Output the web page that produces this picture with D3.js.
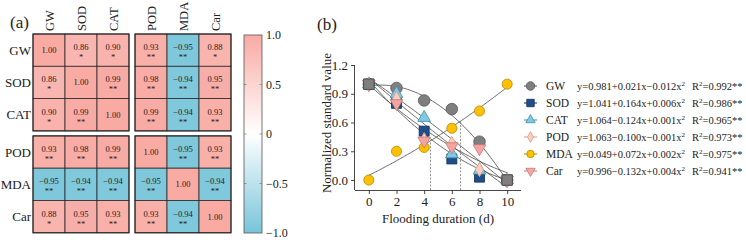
<!DOCTYPE html>
<html><head><meta charset="utf-8">
<script src="https://cdn.jsdelivr.net/npm/d3@7"></script>
<style>body{margin:0;background:#fff}svg{display:block}text{font-family:"Liberation Serif","Times New Roman",Times,serif;fill:#222}</style>
</head><body><svg id="c" width="746" height="240" font-family="Liberation Serif, serif"></svg>
<script>
// ---------- data ----------
const vars = ["GW","SOD","CAT","POD","MDA","Car"];
const corr = [
  [1.00, 0.86, 0.90, 0.93,-0.95, 0.88],
  [0.86, 1.00, 0.99, 0.98,-0.94, 0.95],
  [0.90, 0.99, 1.00, 0.99,-0.94, 0.93],
  [0.93, 0.98, 0.99, 1.00,-0.95, 0.93],
  [-0.95,-0.94,-0.94,-0.95, 1.00,-0.94],
  [0.88, 0.95, 0.93, 0.93,-0.94, 1.00]
];
const sig = [
  ["", "*", "*", "**","**","*"],
  ["*", "", "**","**","**","**"],
  ["*", "**","", "**","**","**"],
  ["**","**","**","", "**","**"],
  ["**","**","**","**","", "**"],
  ["*", "**","**","**","**",""]
];
const cbTicks = [1.0, 0.5, 0, -0.5, -1.0];
const cbTickLabels = ["1.0","0.5","0","\u22120.5","\u22121.0"];

const days = [0, 2, 4, 6, 8, 10];
const seriesNames = ["GW","SOD","CAT","POD","MDA","Car"];
const GW  = [1.00, 0.96, 0.83, 0.74, 0.40, 0.00];
const SOD = [1.00, 0.80, 0.51, 0.22, 0.03, 0.00];
const CAT = [1.00, 0.90, 0.65, 0.27, 0.10, 0.00];
const POD = [1.00, 0.85, 0.42, 0.38, 0.11, 0.00];
const MDA = [0.00, 0.30, 0.34, 0.54, 0.72, 1.00];
const Car = [1.00, 0.80, 0.41, 0.35, 0.33, 0.00];
const seriesValues = [GW, SOD, CAT, POD, MDA, Car];
// quadratic fit coefficients (a, b, c) for drawing the fitted curves
const fitCoef = [
  [0.981, 0.021, -0.012],
  [1.041, -0.164, 0.006],
  [1.064, -0.124, 0.001],
  [1.063, -0.100, -0.001],
  [0.049, 0.072, 0.002],
  [0.996, -0.132, 0.004]
];
const eqText = [
  "y=0.981+0.021x\u22120.012x",
  "y=1.041+0.164x+0.006x",
  "y=1.064\u22120.124x+0.001x",
  "y=1.063\u22120.100x\u22120.001x",
  "y=0.049+0.072x+0.002x",
  "y=0.996\u22120.132x+0.004x"
];
const r2Text = ["=0.992**","=0.986**","=0.965**","=0.973**","=0.975**","=0.941**"];
const dashX = [4.46, 6.63];
const commonPts = [[0,1.0],[10,0.0]];
const xTicks = [0,2,4,6,8,10];
const yTicks = [0.0,0.3,0.6,0.9,1.2];

// ---------- styles ----------
const svg = d3.select("#c");
const color = d3.scaleLinear().domain([-1,0,1]).range(["#78C4D9","#ffffff","#F8AAA3"]);
const mk = [
  {shape:d3.symbolCircle,  size:105, fill:"#7f7f7f", stroke:"#555"},
  {shape:d3.symbolSquare,  size:100, fill:"#1f4e8a", stroke:"#0f2d55"},
  {shape:d3.symbolTriangle,size:70,  fill:"#7fc9e2", stroke:"#3e8fb0"},
  {shape:d3.symbolDiamond, size:60,  fill:"#f8cfbf", stroke:"#d49a88"},
  {shape:d3.symbolCircle,  size:80,  fill:"#ffc000", stroke:"#b58700"},
  {shape:d3.symbolTriangle,size:70,  fill:"#f4a5a1", stroke:"#c77a76", rot:180}
];

// ---------- panel (a) ----------
svg.append("text").attr("x",10).attr("y",28).attr("font-size",17).text("(a)");
const cw = 32, ch = 32.3, gapX = 6, gapY = 5;
const cx = d3.scaleLinear().domain([0,6]).range([33, 33+6*cw]);
const cy = d3.scaleLinear().domain([0,6]).range([34, 34+6*ch]);
const px = i => cx(i) + (i>=3?gapX:0);
const py = i => cy(i) + (i>=3?gapY:0);
const ga = svg.append("g");
corr.forEach((row,i)=>row.forEach((v,j)=>{
  ga.append("rect").attr("x",px(j)).attr("y",py(i)).attr("width",cw).attr("height",ch)
    .attr("fill",color(v)).attr("stroke","#2b2b2b").attr("stroke-width",0.8);
  ga.append("text").attr("x",px(j)+cw/2).attr("y",py(i)+ch/2+(sig[i][j]?0:3))
    .attr("text-anchor","middle").attr("font-size",8.5).text(v.toFixed(2).replace("-","\u2212"));
  if (sig[i][j]) ga.append("text").attr("x",px(j)+cw/2).attr("y",py(i)+ch/2+10)
    .attr("text-anchor","middle").attr("font-size",8.5).text(sig[i][j]);
}));
[[0,0],[0,3],[3,0],[3,3]].forEach(([r,c])=>{
  ga.append("rect").attr("x",px(c)).attr("y",py(r)).attr("width",3*cw).attr("height",3*ch)
    .attr("fill","none").attr("stroke","#222").attr("stroke-width",1);
});
vars.forEach((v,i)=>{
  ga.append("text").attr("x",31).attr("y",py(i)+ch/2+4.5).attr("text-anchor","end").attr("font-size",13).text(v);
  ga.append("text").attr("transform",`translate(${px(i)+cw/2+4.5},31) rotate(-90)`).attr("font-size",12.5).text(v);
});
// colorbar
const cbY = d3.scaleLinear().domain([-1,1]).range([233,35]);
const defs = svg.append("defs");
const lg = defs.append("linearGradient").attr("id","cb").attr("x1",0).attr("x2",0).attr("y1",1).attr("y2",0);
d3.range(-1,1.001,0.25).forEach(v=>lg.append("stop").attr("offset",(v+1)/2).attr("stop-color",color(v)));
svg.append("rect").attr("x",244).attr("y",cbY(1)).attr("width",18).attr("height",cbY(-1)-cbY(1))
  .attr("fill","url(#cb)").attr("stroke","#555").attr("stroke-width",0.8);
cbTicks.forEach((t,k)=>{
  if (Math.abs(t)<1) {
    svg.append("line").attr("x1",244).attr("x2",246.5).attr("y1",cbY(t)).attr("y2",cbY(t)).attr("stroke","#777").attr("stroke-width",0.7);
    svg.append("line").attr("x1",259.5).attr("x2",262).attr("y1",cbY(t)).attr("y2",cbY(t)).attr("stroke","#777").attr("stroke-width",0.7);
  }
  svg.append("text").attr("x",266).attr("y",cbY(t)+4).attr("font-size",12).text(cbTickLabels[k]);
});

// ---------- panel (b) ----------
svg.append("text").attr("x",317).attr("y",30).attr("font-size",17).text("(b)");
const x = d3.scaleLinear().domain([-1,11]).range([355,521]);
const y = d3.scaleLinear().domain([-0.104,1.2]).range([190,65]);
const gb = svg.append("g");
const xa = gb.append("g").attr("transform","translate(0,190)")
  .call(d3.axisBottom(x).tickValues(xTicks).tickSize(4).tickSizeOuter(0).tickFormat(d3.format("d")));
const ya = gb.append("g").attr("transform","translate(355,0)")
  .call(d3.axisLeft(y).tickValues(yTicks).tickSize(4).tickSizeOuter(0).tickFormat(d3.format(".1f")));
[xa,ya].forEach(a=>{
  a.attr("font-family","Liberation Serif, serif");
  a.select(".domain").attr("stroke","#333").attr("stroke-width",0.9);
  a.selectAll(".tick line").attr("stroke","#333").attr("stroke-width",0.9);
  a.selectAll(".tick text").attr("font-size",13).attr("fill","#222");
});
xa.select(".domain").attr("d","M355,0.5H521");
ya.select(".domain").attr("d","M-0.5,190V65");
gb.append("text").attr("transform","translate(331,123) rotate(-90)").attr("text-anchor","middle").attr("font-size",13).text("Normalized standard value");
gb.append("text").attr("x",438).attr("y",223).attr("text-anchor","middle").attr("font-size",13).text("Flooding duration (d)");

const mdaFit = fitCoef[4];
dashX.forEach(dx=>{
  const yy = mdaFit[0]+mdaFit[1]*dx+mdaFit[2]*dx*dx;
  gb.append("line").attr("x1",x(dx)).attr("x2",x(dx)).attr("y1",y(-0.104)).attr("y2",y(yy))
    .attr("stroke","#888").attr("stroke-width",0.9).attr("stroke-dasharray","2,1.5");
});
const xs = d3.range(0,10.001,0.1);
const line = d3.line().x(d=>x(d[0])).y(d=>y(d[1]));
fitCoef.forEach(c=>{
  gb.append("path").attr("d",line(xs.map(t=>[t,c[0]+c[1]*t+c[2]*t*t])))
    .attr("fill","none").attr("stroke","#444").attr("stroke-width",0.8);
});
const sym = (m)=>d3.symbol().type(m.shape).size(m.size)();
seriesValues.forEach((vals,s)=>{
  const m = mk[s];
  vals.forEach((v,k)=>{
    gb.append("path").attr("d",sym(m))
      .attr("transform",`translate(${x(days[k])},${y(v)})${m.rot?` rotate(${m.rot})`:""}`)
      .attr("fill",m.fill).attr("stroke",m.stroke).attr("stroke-width",0.8);
  });
});
commonPts.forEach(p=>{
  gb.append("path").attr("d",d3.symbol().type(d3.symbolSquare).size(110)())
    .attr("transform",`translate(${x(p[0])},${y(p[1])})`).attr("fill","#7f7f7f").attr("stroke","#444").attr("stroke-width",0.8);
});
const ly = d3.scaleLinear().domain([0,5]).range([86,171]);
seriesNames.forEach((n,s)=>{
  const m = mk[s], yy = ly(s);
  gb.append("line").attr("x1",524).attr("x2",537).attr("y1",yy).attr("y2",yy).attr("stroke",m.stroke).attr("stroke-width",1);
  gb.append("path").attr("d",d3.symbol().type(m.shape).size(m.size*0.55)())
    .attr("transform",`translate(530.5,${yy})${m.rot?" rotate(180)":""}`).attr("fill",m.fill).attr("stroke",m.stroke).attr("stroke-width",0.8);
  gb.append("text").attr("x",546).attr("y",yy+4).attr("font-size",11.5).text(n);
  const t = gb.append("text").attr("x",577).attr("y",yy+4).attr("font-size",10.5);
  t.append("tspan").text(eqText[s]);
  t.append("tspan").attr("font-size",7).attr("dy",-4).text("2");
  const r = gb.append("text").attr("x",692).attr("y",yy+4).attr("font-size",10.5);
  r.append("tspan").text("R");
  r.append("tspan").attr("font-size",7).attr("dy",-4).text("2");
  r.append("tspan").attr("dy",4).text(r2Text[s]);
});
</script></body></html>
